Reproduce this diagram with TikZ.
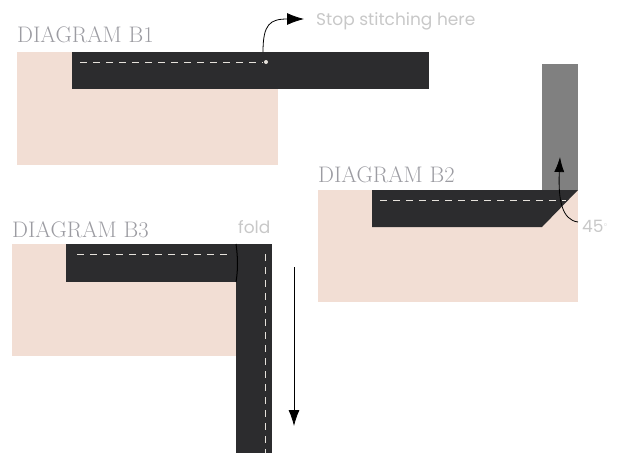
\documentclass[tikz,border=0pt]{standalone}
\usepackage{fontspec}
\newfontfamily\notefont{Poppins}
\usetikzlibrary{arrows.meta}
\definecolor{fabricfill}{HTML}{F2DED4}
\definecolor{bindfill}{HTML}{2C2C2E}
\definecolor{foldfill}{HTML}{808080}
\definecolor{titlegray}{HTML}{9C9CA2}
\definecolor{notegray}{HTML}{C8C8C8}
\definecolor{stitchline}{HTML}{E6E2DC}

\begin{document}
\begin{tikzpicture}[
  x=1pt, y=-1pt,
  fabric/.style = {fill=fabricfill},
  bind/.style   = {fill=bindfill},
  stitch/.style = {draw=stitchline, line width=1pt, dash pattern=on 7pt off 6pt},
  title/.style  = {anchor=base west, inner sep=0pt, text=titlegray,
                   font=\fontsize{22.5}{22.5}\selectfont},
  note/.style   = {anchor=base west, inner sep=0pt, text=notegray,
                   font=\notefont\fontsize{17}{17}\selectfont},
  ln/.style     = {-{Latex[length=17pt,width=12pt]}, draw=black, line width=0.8pt},
]
\useasboundingbox (0,0) rectangle (618,453);

% --- diagram B1: stitching along the edge --------------------------------------------------
\node[title] (titleB1) at (17,42) {DIAGRAM B1};
\fill[fabric] (17,52) rectangle (278,165);
\fill[bind]   (72,52) rectangle (429,89);
\draw[stitch] (80,62) -- (263,62);
\fill[stitchline] (266,62) circle (2pt);
\coordinate (stopB1) at (263,52);
\node[note] (noteB1) at (316,25) {Stop stitching here};
\draw[ln] (stopB1) .. controls (263,24) and (270,19) .. ([xshift=-12pt]noteB1.west |- 0,19);

% --- diagram B2: folding the binding up at 45 degrees ---------------------------------------
\node[title] (titleB2) at (318,182) {DIAGRAM B2};
\fill[fabric] (318,190) rectangle (578,302);
\fill[foldfill] (542,64) rectangle (578,190);
\fill[bind] (372,190) -- (578,190) -- (542,227) -- (372,227) -- cycle;
\draw[stitch] (380,200) -- (566,200);
\node[note] (noteB2) at (582,232) {45\raisebox{6pt}{\fontsize{6}{6}\selectfont$\circ$}};
\coordinate (turnB2) at (560,157);
\draw[ln, -{Latex[length=15pt,width=10pt]}] ([xshift=-4pt]noteB2.west |- 0,222)
      .. controls (562,220) and (558,200) .. (turnB2);

% --- diagram B3: folding it back down ---------------------------------------------------------
\node[title] (titleB3) at (12,237) {DIAGRAM B3};
\node[note]  (foldB3)  at (238,233) {fold};
\fill[fabric] (12,244) rectangle (236,356);
\fill[bind]   (66,244) rectangle (236,282);
\fill[bind]   (236,244) rectangle (272,453);
\draw[black, line width=1pt] (236,244) .. controls (238,258) and (238,270) .. (236,282);
\draw[stitch] (77,254) -- (232,254);
\draw[stitch] (265,254) -- (265,453);
\coordinate (downB3a) at (294,267);
\coordinate (downB3b) at (294,426);
\draw[ln, -{Latex[length=16pt,width=11pt]}] (downB3a) -- (downB3b);

\end{tikzpicture}
\end{document}
